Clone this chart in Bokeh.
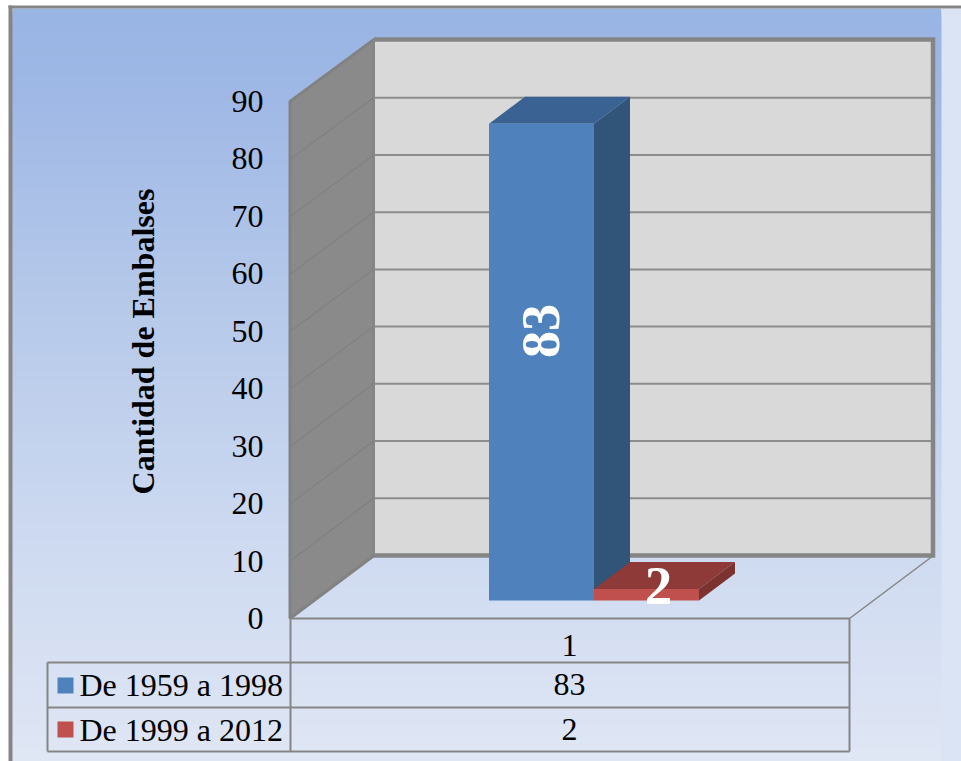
import numpy as np
from bokeh.embed import file_html
from bokeh.models import FixedTicker, Range1d
from bokeh.plotting import figure
from bokeh.resources import INLINE
from bokeh.core.properties import value

# Reservoir counts by construction period
periods = ["De 1959 a 1998", "De 1999 a 2012"]
reservoirs = [83, 2]
bar_fronts = ["#4F81BD", "#C0504D"]
bar_tops = ["#3A6292", "#8E3A38"]
bar_sides = ["#315479", "#7C322F"]
y_ticks = [0, 10, 20, 30, 40, 50, 60, 70, 80, 90]
category = "1"
y_title = "Cantidad de Embalses"

WIDTH, HEIGHT = 961, 761
SERIF = value("Liberation Serif")
GRID = "#858585"

# Front plane of the box: value 0 at pixel 618, value 90 at pixel 101
UNIT = (618 - 101) / 90
BACK_UNIT = (555 - 40) / 90

p = figure(
    width=WIDTH, height=HEIGHT, output_backend="svg", toolbar_location=None,
    x_range=Range1d(0, WIDTH),
    y_range=Range1d((618 - HEIGHT) / UNIT, 618 / UNIT),
    min_border=0, outline_line_color=None, background_fill_color="white",
)
p.extra_y_ranges = {"px": Range1d(HEIGHT, 0)}
p.grid.visible = False
p.xaxis.visible = False
PX = dict(y_range_name="px")

# Vertical page gradient and its frame; bands overlap so no seams show
stops_y = [8, 100, 300, 550, 761]
stops_c = [(0x99, 0xB5, 0xE4), (0xA0, 0xB9, 0xE6), (0xB6, 0xC9, 0xEA), (0xCF, 0xDB, 0xF1), (0xE0, 0xE7, 0xF5)]
bands = np.arange(8, HEIGHT, 3)
band_colors = [
    "#%02X%02X%02X" % tuple(int(np.interp(y, stops_y, [c[ch] for c in stops_c])) for ch in range(3))
    for y in bands
]
p.quad(left=12, right=941, top=bands, bottom=HEIGHT, fill_color=band_colors, line_color=None, **PX)
p.quad(left=941, right=WIDTH, top=8, bottom=HEIGHT, fill_color="#DBE4F5", line_color=None, **PX)
p.quad(left=8, right=12, top=5, bottom=HEIGHT, fill_color="#858585", line_color=None, **PX)
p.quad(left=8, right=WIDTH, top=5, bottom=8, fill_color="#858585", line_color=None, **PX)

# Box walls
p.patch([289.5, 373.5, 373.5, 289.5], [618, 555, 39, 101], fill_color="#8A8A8A", line_color="#828282", line_width=3, **PX)
p.quad(left=373.5, right=932.5, top=39, bottom=555, fill_color="#D9D9D9", line_color=None, **PX)
p.line([373.5, 932.5, 932.5, 373.5], [39, 39, 555, 555], line_color=GRID, line_width=4.5, line_join="miter", **PX)
p.line([373.5, 373.5], [39, 555], line_color=GRID, line_width=2, **PX)

back_y = [555 - v * BACK_UNIT for v in y_ticks]
front_y = [618 - v * UNIT for v in y_ticks]
p.multi_line([[374, 931] for _ in y_ticks[1:-1]], [[y, y] for y in back_y[1:-1]],
             line_color="#8C8C8C", line_width=2, **PX)
p.multi_line([[290, 373] for _ in y_ticks[1:-1]], [[f, b] for f, b in zip(front_y[1:-1], back_y[1:-1])],
             line_color="#808080", line_width=1.2, **PX)
p.line([849, 933], [618, 555], line_color=GRID, line_width=1.5, **PX)

# Data table beneath the box
p.multi_line(
    [[290, 849], [47, 849], [47, 849], [47, 849], [290, 290], [849, 849], [47, 47]],
    [[618, 618], [662, 662], [707, 707], [751, 751], [618, 751], [618, 751], [662, 751]],
    line_color=GRID, line_width=2, **PX,
)

# Clustered 3-D columns
BAR_W, DX, DY = 105, 36, 27 / UNIT
BASE = (618 - 600) / UNIT
LEFT = 488.5
for i, v in enumerate(reservoirs):
    x0, x1 = LEFT + i * BAR_W, LEFT + (i + 1) * BAR_W
    top = BASE + v
    p.patch([x0, x1, x1 + DX, x0 + DX], [top, top, top + DY, top + DY], fill_color=bar_tops[i], line_color=None)
    p.patch([x1, x1 + DX, x1 + DX, x1], [BASE, BASE + DY, top + DY, top], fill_color=bar_sides[i], line_color=None)
    p.quad(left=x0, right=x1, bottom=BASE, top=top, fill_color=bar_fronts[i], line_color=None)

# Value labels on the columns
p.text([540], [BASE + reservoirs[0] / 2 + 5.4], text=[str(reservoirs[0])], angle=np.pi / 2, text_font=SERIF,
       text_font_style="bold", text_font_size="54px", text_color="white", text_align="center", text_baseline="middle")
p.text([658], [BASE + reservoirs[1] / 2 + 1.6], text=[str(reservoirs[1])], text_font=SERIF,
       text_font_style="bold", text_font_size="55px", text_color="white", text_align="center", text_baseline="middle")

# Value axis
ax = p.yaxis[0]
ax.ticker = FixedTicker(ticks=y_ticks)
ax.fixed_location = 269
ax.axis_line_color = None
ax.major_tick_line_color = None
ax.minor_tick_line_color = None
ax.major_label_standoff = 0
ax.major_label_text_font = "Liberation Serif"
ax.major_label_text_font_size = "32px"
ax.major_label_text_color = "black"

p.text([142], [341], text=[y_title], angle=np.pi / 2, text_font=SERIF, text_font_style="bold",
       text_font_size="32px", text_color="black", text_align="center", text_baseline="alphabetic", **PX)

# Table contents
table_rows = [645, 684, 729]
table_vals = [category] + [str(v) for v in reservoirs]
p.text([569] * 3, table_rows, text=table_vals, text_font=SERIF, text_font_size="32px", text_color="black",
       text_align="center", text_baseline="middle", **PX)
p.text([79, 79], table_rows[1:], text=periods, text_font=SERIF, text_font_size="32px", text_color="black",
       text_align="left", text_baseline="middle", **PX)
p.quad(left=[57, 57], right=[73, 73], top=[677, 721], bottom=[693, 737], fill_color=bar_fronts, line_color=None, **PX)

open("out.html", "w").write(file_html(p, INLINE))
